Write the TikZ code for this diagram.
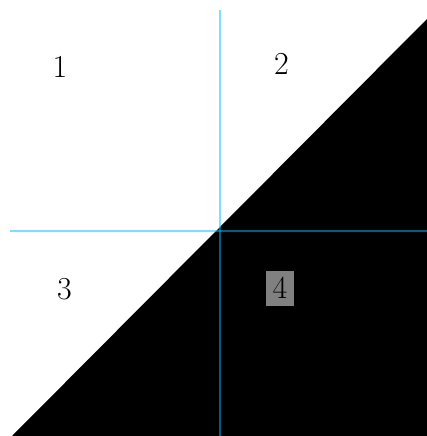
\documentclass[tikz,border=0pt]{standalone}
\begin{document}
\begin{tikzpicture}[x=1pt,y=-1pt,
  guide/.style={draw={rgb,255:red,0;green,190;blue,255},line width=2pt,draw opacity=0.5},
  lbl/.style={font=\fontsize{32}{32}\selectfont,inner sep=0pt}]
\useasboundingbox (0,0) rectangle (427,436);
\fill[white] (0,0) rectangle (427,436);
\coordinate (bl) at (12,436);
\coordinate (br) at (427,436);
\coordinate (tr) at (427,19);
\fill[black] (bl) -- (br) -- (tr) -- cycle;
\coordinate (vt) at (219.5,10);
\coordinate (vb) at (219.5,436);
\coordinate (hl) at (10,230.5);
\coordinate (hr) at (427,230.5);
\draw[guide] (vt) -- (vb);
\draw[guide] (hl) -- (hr);
\node[lbl] (n1) at (60,67) {1};
\node[lbl] (n2) at (281.5,64) {2};
\node[lbl] (n3) at (64.5,289.5) {3};
\node[lbl,fill={rgb,255:red,128;green,128;blue,128},minimum width=28pt,minimum height=35pt] (n4) at (280,288) {4};
\end{tikzpicture}
\end{document}
